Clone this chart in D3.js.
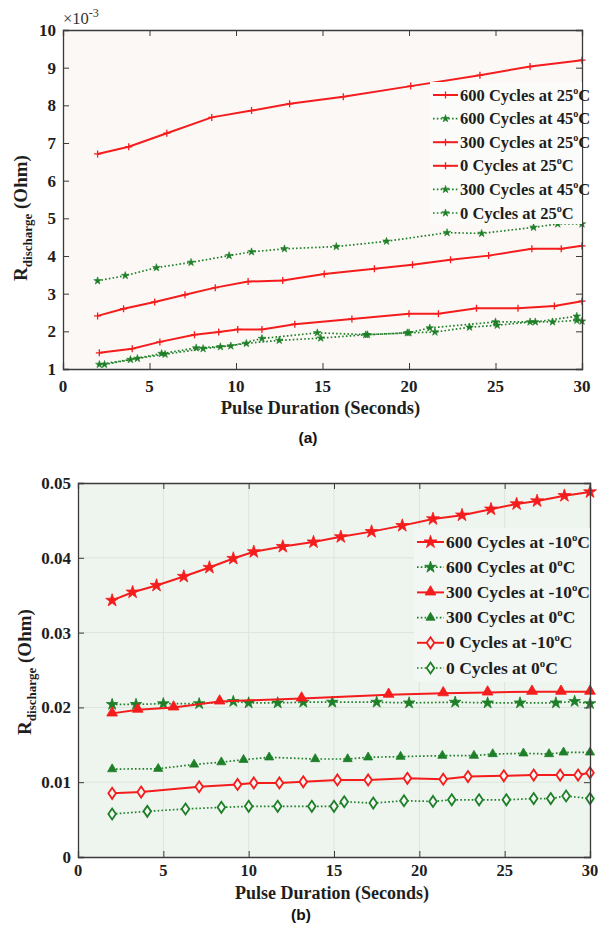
<!DOCTYPE html>
<html>
<head>
<meta charset="utf-8">
<script src="https://cdn.jsdelivr.net/npm/d3@7"></script>
<style>
  html, body { margin: 0; padding: 0; background: #ffffff; }
  svg { display: block; }
</style>
</head>
<body>
<svg id="fig" width="602" height="931"></svg>
<script>
// ---------- Panel (a): resistance ×10^-3 Ohm vs pulse duration ----------
const xTicksA = [0, 5, 10, 15, 20, 25, 30];
const yTicksA = [1, 2, 3, 4, 5, 6, 7, 8, 9, 10];

const a600c25x = [2, 3.8, 6, 8.6, 10.9, 13.1, 16.2, 20.1, 24.1, 27, 30];
const a600c25y = [6.71, 6.9, 7.26, 7.68, 7.86, 8.04, 8.23, 8.51, 8.8, 9.03, 9.2];

const a600c45x = [2, 3.6, 5.4, 7.4, 9.6, 10.9, 12.8, 15.8, 18.7, 22.2, 24.2, 27.2, 28.6, 30];
const a600c45y = [3.34, 3.48, 3.69, 3.83, 4.01, 4.11, 4.19, 4.25, 4.39, 4.62, 4.6, 4.76, 4.85, 4.85];

const a300c25x = [2, 3.5, 5.3, 7.05, 8.8, 10.7, 12.7, 15.1, 18.0, 20.2, 22.4, 24.6, 27.1, 28.8, 30];
const a300c25y = [2.41, 2.6, 2.78, 2.97, 3.16, 3.32, 3.35, 3.52, 3.66, 3.77, 3.9, 4.01, 4.19, 4.19, 4.27];

const a0c25x = [2.1, 4, 5.6, 7.6, 9, 10.1, 11.5, 13.4, 16.7, 20, 21.7, 23.9, 26.3, 28.4, 30];
const a0c25y = [1.43, 1.54, 1.72, 1.91, 1.98, 2.05, 2.05, 2.19, 2.33, 2.47, 2.47, 2.61, 2.61, 2.67, 2.8];

const a300c45x = [2.1, 3.9, 5.7, 7.7, 9.7, 11.5, 14.7, 17.6, 20, 21.2, 25, 27.3, 29.7];
const a300c45y = [1.12, 1.25, 1.41, 1.56, 1.61, 1.81, 1.96, 1.91, 1.96, 2.09, 2.25, 2.25, 2.4];

const a0c25gx = [2.4, 4.3, 5.9, 8.1, 9.1, 10.6, 12.5, 14.9, 17.5, 19.9, 21.5, 23.5, 25.1, 27, 28.3, 29.7, 30];
const a0c25gy = [1.12, 1.28, 1.39, 1.54, 1.59, 1.68, 1.76, 1.82, 1.91, 1.96, 1.98, 2.11, 2.16, 2.25, 2.25, 2.29, 2.27];

const labelsA = ["600 Cycles at 25", "600 Cycles at 45", "300 Cycles at 25",
                 "0 Cycles at 25", "300 Cycles at 45", "0 Cycles at 25"];

// ---------- Panel (b): resistance Ohm vs pulse duration ----------
const xTicksB = [0, 5, 10, 15, 20, 25, 30];
const yTicksB = [0, 0.01, 0.02, 0.03, 0.04, 0.05];

const b600m10x = [2, 3.2, 4.6, 6.2, 7.7, 9.1, 10.3, 12, 13.8, 15.4, 17.2, 19, 20.8, 22.5, 24.2, 25.7, 26.9, 28.5, 30];
const b600m10y = [0.0343, 0.0354, 0.0363, 0.0375, 0.0387, 0.0399, 0.0408, 0.0415, 0.0421, 0.0428, 0.0435, 0.0443, 0.0452, 0.0457, 0.0465, 0.0472, 0.0476, 0.0483, 0.0488];

const b600c0x = [2, 3.4, 5, 7.1, 9.1, 10, 11.7, 13.2, 14.9, 17.5, 19.4, 22.1, 24, 25.9, 28, 29.1, 30];
const b600c0y = [0.0204, 0.0204, 0.0205, 0.0205, 0.0208, 0.0206, 0.0206, 0.0207, 0.0207, 0.0207, 0.0206, 0.0207, 0.0206, 0.0206, 0.0206, 0.0208, 0.0205];

const b300m10x = [2, 3.5, 5.6, 8.3, 13.1, 18.2, 21.4, 24, 26.6, 28.3, 30];
const b300m10y = [0.0192, 0.0197, 0.0200, 0.0208, 0.0212, 0.0217, 0.0219, 0.022, 0.0221, 0.0221, 0.0221];

const b300c0x = [2, 4.7, 6.8, 8.4, 9.7, 11.2, 13.9, 15.8, 17, 18.9, 21.35, 23.2, 24.3, 26.1, 27.6, 28.45, 30];
const b300c0y = [0.01175, 0.0118, 0.01237, 0.01268, 0.013, 0.01333, 0.0131, 0.0131, 0.01333, 0.01342, 0.01355, 0.01355, 0.01377, 0.01386, 0.01377, 0.01399, 0.01399];

const b0m10x = [2, 3.7, 7.1, 9.35, 10.3, 11.8, 13.2, 15.2, 17, 19.3, 21.4, 22.85, 24.95, 26.7, 28.25, 29.3, 30];
const b0m10y = [0.00851, 0.00868, 0.00939, 0.0097, 0.0099, 0.0099, 0.01005, 0.01030, 0.01030, 0.01052, 0.0104, 0.01075, 0.01085, 0.01095, 0.01095, 0.01095, 0.01125];

const b0c0x = [2, 4.06, 6.3, 8.4, 10, 11.7, 13.7, 15, 15.6, 17.3, 19.1, 20.8, 21.9, 23.5, 25.1, 26.7, 27.7, 28.6, 30];
const b0c0y = [0.00575, 0.0061, 0.00642, 0.00664, 0.00677, 0.00677, 0.00677, 0.00677, 0.00739, 0.00721, 0.00752, 0.00743, 0.00764, 0.00764, 0.00764, 0.00781, 0.00781, 0.00816, 0.00781];

const labelsB = ["600 Cycles at -10", "600 Cycles at 0", "300 Cycles at -10",
                 "300 Cycles at 0", "0 Cycles at -10", "0 Cycles at 0"];

const RED = "#f41c1c";
const GREEN = "#1d7f27";
const SERIF = "'Liberation Serif', 'Times New Roman', serif";
const SANS = "'Liberation Sans', Arial, sans-serif";

const svg = d3.select("#fig");

// marker painters
function plusMark(g, color) {
  g.append("path").attr("d", "M-3.5,0H3.5M0,-3.5V3.5")
    .attr("stroke", color).attr("stroke-width", 1.3).attr("fill", "none");
}
function smallStar(g, color) {
  g.append("path").attr("d", d3.symbol(d3.symbolStar, 18)())
    .attr("fill", color).attr("stroke", color).attr("stroke-width", 0.6);
}
function redStar(g, color) {
  g.append("path").attr("d", d3.symbol(d3.symbolStar, 52)())
    .attr("fill", color).attr("stroke", color).attr("stroke-width", 0.8);
}
function greenStar(g, color) {
  g.append("path").attr("d", d3.symbol(d3.symbolStar, 42)())
    .attr("fill", color).attr("stroke", color).attr("stroke-width", 0.8);
}
function triangle(g, color) {
  g.append("path").attr("d", d3.symbol(d3.symbolTriangle, 50)())
    .attr("transform", "translate(0,-0.5)")
    .attr("fill", color).attr("stroke", color).attr("stroke-width", 0.8);
}
function smallTriangle(g, color) {
  g.append("path").attr("d", d3.symbol(d3.symbolTriangle, 36)())
    .attr("fill", color).attr("stroke", color).attr("stroke-width", 0.8);
}
function diamond(g, color) {
  g.append("path").attr("d", "M0,-5.5L3.8,0L0,5.5L-3.8,0Z")
    .attr("fill", "#f3f6f2").attr("stroke", color).attr("stroke-width", 1.8);
}

function drawPanel(cfg) {
  const { left, right, top, bottom } = cfg.box;
  const x = d3.scaleLinear().domain([0, 30]).range([left, right]);
  const y = d3.scaleLinear().domain(cfg.yDomain).range([bottom, top]);
  const g = svg.append("g");

  g.append("rect").attr("x", left).attr("y", top)
    .attr("width", right - left).attr("height", bottom - top)
    .attr("fill", cfg.bg);

  if (cfg.grid) {
    const gg = g.append("g").attr("stroke", "#dde4dd").attr("stroke-width", 1);
    cfg.xTicks.slice(1, -1).forEach(t => gg.append("line")
      .attr("x1", x(t)).attr("x2", x(t)).attr("y1", top).attr("y2", bottom));
    cfg.yTicks.slice(1, -1).forEach(t => gg.append("line")
      .attr("x1", left).attr("x2", right).attr("y1", y(t)).attr("y2", y(t)));
  }

  // series
  cfg.series.forEach(s => {
    const pts = s.xs.map((v, i) => [v, s.ys[i]]);
    const line = d3.line().x(d => x(d[0])).y(d => y(d[1]));
    g.append("path").datum(pts).attr("d", line)
      .attr("fill", "none").attr("stroke", s.color)
      .attr("stroke-width", s.dotted ? 1.7 : 2)
      .attr("stroke-dasharray", s.dotted ? "1.6,2.2" : null);
    pts.forEach(p => {
      const m = g.append("g").attr("transform", `translate(${x(p[0])},${y(p[1])})`);
      s.marker(m, s.color);
    });
  });

  // axes (box with inward ticks on all sides)
  const axisColor = "#3a3a3a";
  const tickLen = 6;
  const axBottom = d3.axisBottom(x).tickValues(cfg.xTicks).tickSize(-tickLen).tickFormat("");
  const axTop = d3.axisTop(x).tickValues(cfg.xTicks).tickSize(-tickLen).tickFormat("");
  const axLeft = d3.axisLeft(y).tickValues(cfg.yTicks).tickSize(-tickLen).tickFormat("");
  const axRight = d3.axisRight(y).tickValues(cfg.yTicks).tickSize(-tickLen).tickFormat("");
  [[axBottom, `translate(0,${bottom})`], [axTop, `translate(0,${top})`],
   [axLeft, `translate(${left},0)`], [axRight, `translate(${right},0)`]].forEach(([ax, tr]) => {
    const a = g.append("g").attr("transform", tr).call(ax);
    a.select(".domain").attr("stroke", axisColor).attr("stroke-width", 1.3);
    a.selectAll(".tick line").attr("stroke", axisColor).attr("stroke-width", 1);
  });

  // tick labels
  cfg.xTicks.forEach(t => g.append("text")
    .attr("x", x(t)).attr("y", bottom + cfg.xTickOff).attr("text-anchor", "middle")
    .attr("font-family", SERIF).attr("font-weight", "bold").attr("font-size", cfg.tickFont)
    .attr("fill", "#1e1e1e").text(t));
  cfg.yTicks.forEach(t => g.append("text")
    .attr("x", left - 7).attr("y", y(t) + 6).attr("text-anchor", "end")
    .attr("font-family", SERIF).attr("font-weight", "bold").attr("font-size", 17)
    .attr("fill", "#1e1e1e").text(cfg.yFormat(t)));

  // x title
  g.append("text").attr("x", (left + right) / 2 - 2).attr("y", bottom + cfg.xTitleOff)
    .attr("text-anchor", "middle").attr("font-family", SERIF)
    .attr("font-weight", "bold").attr("font-size", cfg.titleFont).attr("fill", "#1e1e1e")
    .text("Pulse Duration (Seconds)");

  // y title
  const yt = g.append("text")
    .attr("transform", `translate(${cfg.yTitleX},${cfg.yTitleY}) rotate(-90)`)
    .attr("text-anchor", "middle").attr("font-family", SERIF)
    .attr("font-weight", "bold").attr("fill", "#1e1e1e").attr("font-size", 19);
  yt.append("tspan").text("R");
  yt.append("tspan").attr("font-size", 13).attr("dy", 5).text("discharge");
  yt.append("tspan").attr("dy", -5).text(" (Ohm)");

  // legend
  const L = cfg.legend;
  g.append("rect").attr("x", L.x).attr("y", L.y).attr("width", L.w).attr("height", L.h)
    .attr("fill", L.fill);
  cfg.series.forEach((s, i) => {
    const cy = L.y + L.first + i * L.step;
    g.append("line").attr("x1", L.x + 3).attr("x2", L.x + 3 + L.sample)
      .attr("y1", cy).attr("y2", cy).attr("stroke", s.color)
      .attr("stroke-width", s.dotted ? 1.7 : 2)
      .attr("stroke-dasharray", s.dotted ? "1.6,2.2" : null);
    const m = g.append("g").attr("transform", `translate(${L.x + 3 + L.sample / 2},${cy})`);
    s.marker(m, s.color);
    const t = g.append("text").attr("x", L.x + L.sample + 5).attr("y", cy + 5.5)
      .attr("font-family", SERIF).attr("font-weight", "bold")
      .attr("font-size", L.font).attr("fill", "#1e1e1e");
    t.append("tspan").text(s.label);
    t.append("tspan").attr("font-size", L.font * 0.62).attr("dy", -7).text("o");
    t.append("tspan").attr("dy", 7).text("C");
  });

  // panel caption
  g.append("text").attr("x", cfg.capX).attr("y", cfg.capY).attr("text-anchor", "middle")
    .attr("font-family", SANS).attr("font-weight", "bold").attr("font-size", 15.5)
    .attr("fill", "#111").text(cfg.caption);

  return { g, x, y };
}

// panel (a)
const pa = drawPanel({
  box: { left: 63, right: 582, top: 30, bottom: 369 },
  yDomain: [1, 10], xTicks: xTicksA, yTicks: yTicksA, yFormat: d => d,
  bg: "#fcf8f6", grid: false, xTickOff: 23, xTitleOff: 45, tickFont: 17, titleFont: 18.5,
  yTitleX: 27, yTitleY: 218,
  series: [
    { xs: a600c25x, ys: a600c25y, color: RED, dotted: false, marker: plusMark, label: labelsA[0] },
    { xs: a600c45x, ys: a600c45y, color: GREEN, dotted: true, marker: smallStar, label: labelsA[1] },
    { xs: a300c25x, ys: a300c25y, color: RED, dotted: false, marker: plusMark, label: labelsA[2] },
    { xs: a0c25x, ys: a0c25y, color: RED, dotted: false, marker: plusMark, label: labelsA[3] },
    { xs: a300c45x, ys: a300c45y, color: GREEN, dotted: true, marker: smallStar, label: labelsA[4] },
    { xs: a0c25gx, ys: a0c25gy, color: GREEN, dotted: true, marker: smallStar, label: labelsA[5] }
  ],
  legend: { x: 430, y: 82, w: 152, h: 142, first: 13, step: 23.6, sample: 25, font: 16.5, fill: "#fbfcfa" },
  caption: "(a)", capX: 308, capY: 443
});

// exponent note above the y axis of panel (a)
const ex = pa.g.append("text").attr("x", 63).attr("y", 24)
  .attr("font-family", SERIF).attr("font-size", 16.5).attr("fill", "#333");
ex.append("tspan").text("×10");
ex.append("tspan").attr("font-size", 12).attr("dy", -7).text("-3");

// panel (b)
drawPanel({
  box: { left: 78, right: 590, top: 483, bottom: 857 },
  yDomain: [0, 0.05], xTicks: xTicksB, yTicks: yTicksB,
  yFormat: d => d === 0 ? "0" : d3.format(".2f")(d),
  bg: "#eef4ee", grid: true, xTickOff: 19, xTitleOff: 41.5, tickFont: 16.5, titleFont: 18,
  yTitleX: 31, yTitleY: 672,
  series: [
    { xs: b600m10x, ys: b600m10y, color: RED, dotted: false, marker: redStar, label: labelsB[0] },
    { xs: b600c0x, ys: b600c0y, color: GREEN, dotted: true, marker: greenStar, label: labelsB[1] },
    { xs: b300m10x, ys: b300m10y, color: RED, dotted: false, marker: triangle, label: labelsB[2] },
    { xs: b300c0x, ys: b300c0y, color: GREEN, dotted: true, marker: smallTriangle, label: labelsB[3] },
    { xs: b0m10x, ys: b0m10y, color: RED, dotted: false, marker: diamond, label: labelsB[4] },
    { xs: b0c0x, ys: b0c0y, color: GREEN, dotted: true, marker: diamond, label: labelsB[5] }
  ],
  legend: { x: 414, y: 528, w: 176, h: 154, first: 14, step: 25.2, sample: 27, font: 17.5, fill: "#f3f7f3" },
  caption: "(b)", capX: 301, capY: 920
});
</script>
</body>
</html>
